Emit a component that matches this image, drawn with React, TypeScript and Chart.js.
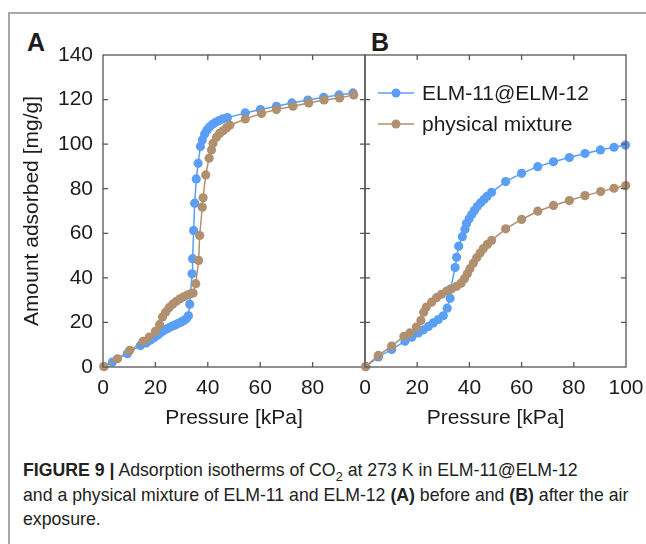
import React, { useEffect, useRef } from 'react';
import { Chart, registerables } from 'chart.js';

Chart.register(...registerables);

const FONT = '"Liberation Sans", Arial, Helvetica, sans-serif';
const TEXT = '#1c1c1c';
const FRAME = '#555555';
const BLUE = '#5a9ff5';
const BROWN = '#b0906e';

const seriesLabels = ['ELM-11@ELM-12', 'physical mixture'];
const xTitle = 'Pressure [kPa]';
const yTitle = 'Amount adsorbed [mg/g]';
const xTickValues = [0, 20, 40, 60, 80, 100];
const yTickValues = [0, 20, 40, 60, 80, 100, 120, 140];

// Panel A (before air exposure)
const aElmP = [0.4, 3.6, 9.3, 14.3, 16.5, 18.0, 19.5, 20.8, 22.0, 23.1, 24.2, 25.3, 26.4, 27.5, 28.6, 29.7, 30.8, 31.8, 32.6, 33.1, 34.0, 34.2, 34.6, 35.0, 35.6, 36.3, 37.2, 37.9, 38.8, 39.7, 40.7, 41.8, 43.0, 44.3, 45.7, 47.5, 54.3, 60.1, 66.2, 72.1, 78.2, 84.2, 90.1, 95.4];
const aElmQ = [0.2, 2.2, 6.0, 9.7, 10.8, 12.0, 13.1, 14.3, 15.4, 16.3, 17.0, 17.7, 18.3, 18.9, 19.5, 20.1, 20.8, 21.6, 23.0, 28.2, 41.8, 48.6, 61.3, 73.5, 84.4, 91.4, 98.9, 101.9, 104.6, 106.4, 107.8, 108.9, 109.8, 110.6, 111.3, 111.9, 114.0, 115.5, 117.0, 118.5, 119.8, 121.0, 122.1, 123.0];
const aMixP = [0.3, 5.5, 10.2, 15.3, 17.6, 20.0, 21.6, 22.7, 23.9, 25.2, 26.6, 28.0, 29.4, 30.8, 32.2, 33.5, 34.4, 35.4, 36.5, 36.9, 37.9, 38.2, 39.2, 40.5, 41.4, 42.0, 43.3, 44.5, 45.8, 47.1, 48.4, 54.3, 60.5, 66.2, 72.5, 78.5, 84.4, 90.3, 95.7];
const aMixQ = [0.2, 3.7, 7.5, 11.5, 13.4, 16.0, 19.0, 22.4, 24.6, 26.6, 28.2, 29.5, 30.6, 31.5, 32.3, 32.9, 33.2, 37.4, 47.8, 59.0, 71.7, 75.9, 86.2, 93.7, 97.4, 100.4, 103.1, 104.8, 106.0, 107.3, 108.5, 111.3, 113.8, 115.5, 117.0, 118.5, 119.8, 120.7, 122.1];

// Panel B (after air exposure)
const bElmP = [0.3, 5.1, 10.2, 15.3, 17.9, 20.4, 22.4, 24.3, 26.2, 28.1, 30.0, 31.5, 32.6, 32.8, 34.5, 35.1, 35.9, 37.3, 38.3, 38.9, 39.9, 40.9, 41.9, 43.0, 44.3, 45.6, 46.8, 48.5, 53.9, 60.0, 66.2, 72.2, 78.3, 84.3, 90.2, 95.4, 99.8];
const bElmQ = [0.2, 4.5, 7.9, 11.5, 13.4, 15.3, 16.7, 18.2, 19.8, 21.3, 23.0, 26.4, 30.8, 35.0, 44.6, 49.2, 54.2, 58.5, 61.8, 64.4, 66.5, 68.4, 70.2, 72.0, 73.7, 75.2, 76.6, 78.4, 83.2, 86.9, 89.9, 92.1, 94.0, 95.8, 97.4, 98.6, 99.6];
const bMixP = [0.3, 5.1, 10.2, 14.9, 17.2, 19.7, 21.4, 22.5, 23.5, 25.5, 27.4, 29.3, 31.3, 33.2, 35.1, 36.8, 38.1, 39.2, 40.2, 41.5, 42.8, 44.1, 45.3, 46.9, 48.5, 53.9, 60.0, 66.2, 72.2, 78.3, 84.3, 90.3, 95.4, 99.9];
const bMixQ = [0.2, 5.2, 9.4, 13.8, 15.3, 17.9, 20.9, 24.6, 26.9, 29.1, 31.1, 32.6, 34.1, 35.1, 36.2, 37.6, 39.6, 41.8, 44.1, 46.6, 49.0, 51.1, 53.1, 55.0, 56.8, 62.0, 66.2, 69.9, 72.5, 74.7, 76.9, 78.7, 80.2, 81.4];

const zip = (p: number[], q: number[]) => p.map((x, i) => ({ x, y: q[i] }));

const zeroPad = (s: any) => {
  s.paddingTop = 0;
  s.paddingBottom = 0;
  s.paddingLeft = 0;
  s.paddingRight = 0;
};

const framePlugin = {
  id: 'frameTicks',
  afterDraw(chart: any) {
    const { ctx, chartArea, scales } = chart;
    const { left, right, top, bottom } = chartArea;
    const xs = scales.x;
    const ys = scales.y;
    const L = 5;
    ctx.save();
    ctx.strokeStyle = FRAME;
    ctx.lineWidth = 1.3;
    ctx.strokeRect(left, top, right - left, bottom - top);
    ctx.beginPath();
    xTickValues.forEach((v) => {
      const px = xs.getPixelForValue(v);
      if (px <= left + 1 || px >= right - 1) return;
      ctx.moveTo(px, bottom);
      ctx.lineTo(px, bottom - L);
      ctx.moveTo(px, top);
      ctx.lineTo(px, top + L);
    });
    yTickValues.forEach((v) => {
      const py = ys.getPixelForValue(v);
      if (py <= top + 1 || py >= bottom - 1) return;
      ctx.moveTo(left, py);
      ctx.lineTo(left + L, py);
      ctx.moveTo(right, py);
      ctx.lineTo(right - L, py);
    });
    ctx.stroke();
    ctx.restore();
  },
};

const legendPlugin = {
  id: 'panelLegend',
  afterDatasetsDraw(chart: any, _args: any, opts: any) {
    if (!opts || !opts.show) return;
    const { ctx, chartArea } = chart;
    const order = [1, 0];
    order.forEach((di, row) => {
      const ds = chart.data.datasets[di];
      const cy = chartArea.top + 38 + row * 31;
      const x0 = chartArea.left + 13;
      ctx.save();
      ctx.strokeStyle = ds.borderColor;
      ctx.lineWidth = 1.5;
      ctx.beginPath();
      ctx.moveTo(x0, cy);
      ctx.lineTo(x0 + 36, cy);
      ctx.stroke();
      ctx.fillStyle = ds.backgroundColor;
      ctx.beginPath();
      ctx.arc(x0 + 18, cy, 4.5, 0, Math.PI * 2);
      ctx.fill();
      ctx.fillStyle = TEXT;
      ctx.font = `21px ${FONT}`;
      ctx.textBaseline = 'middle';
      ctx.textAlign = 'left';
      ctx.fillText(ds.label, x0 + 44, cy + 1);
      ctx.restore();
    });
  },
};

function buildConfig(isA: boolean, elm: any[], mix: any[]): any {
  const font = { family: FONT, size: 21 };
  const ds = (label: string, data: any[], color: string) => ({
    label,
    data,
    borderColor: color,
    backgroundColor: color,
    showLine: true,
    borderWidth: 1.5,
    pointRadius: 4.6,
    pointHoverRadius: 4.6,
    pointBorderWidth: 0,
    clip: false,
  });
  return {
    type: 'scatter',
    data: {
      datasets: [ds(seriesLabels[1], mix, BROWN), ds(seriesLabels[0], elm, BLUE)],
    },
    options: {
      responsive: false,
      animation: false,
      devicePixelRatio: 1,
      events: [],
      layout: { padding: isA ? { top: 15, right: 5, left: 0, bottom: 0 } : { top: 15, right: 20, left: 0, bottom: 0 } },
      plugins: {
        legend: { display: false },
        tooltip: { enabled: false },
        panelLegend: { show: !isA },
      },
      scales: {
        x: {
          type: 'linear',
          min: 0,
          max: 100,
          afterBuildTicks: (s: any) => {
            s.ticks = xTickValues.filter((v) => (isA ? v < 100 : true)).map((v) => ({ value: v }));
          },
          ticks: { font, color: TEXT, padding: 9, autoSkip: false, maxRotation: 0 },
          grid: { display: false, drawTicks: false },
          border: { display: false },
          title: { display: true, text: xTitle, font, color: TEXT, padding: { top: 0, bottom: 9 } },
          afterFit: (s: any) => {
            s.height = 73;
            zeroPad(s);
          },
        },
        y: {
          type: 'linear',
          min: 0,
          max: 140,
          afterBuildTicks: (s: any) => {
            s.ticks = yTickValues.map((v) => ({ value: v }));
          },
          ticks: { display: isA, font, color: TEXT, padding: 10 },
          grid: { display: false, drawTicks: false },
          border: { display: false },
          title: { display: isA, text: yTitle, font, color: TEXT, padding: { top: 20, bottom: 0 } },
          afterFit: (s: any) => {
            s.width = isA ? 103 : 10;
            zeroPad(s);
          },
        },
      },
    },
    plugins: [framePlugin, legendPlugin],
  };
}

export default function App() {
  const refA = useRef<HTMLCanvasElement>(null);
  const refB = useRef<HTMLCanvasElement>(null);

  useEffect(() => {
    const a = new Chart(refA.current as HTMLCanvasElement, buildConfig(true, zip(aElmP, aElmQ), zip(aMixP, aMixQ)));
    const b = new Chart(refB.current as HTMLCanvasElement, buildConfig(false, zip(bElmP, bElmQ), zip(bMixP, bMixQ)));
    return () => {
      a.destroy();
      b.destroy();
    };
  }, []);

  const letter: React.CSSProperties = {
    position: 'absolute',
    top: 30,
    fontFamily: FONT,
    fontWeight: 'bold',
    fontSize: 25,
    lineHeight: '25px',
    color: TEXT,
  };

  return (
    <div style={{ position: 'absolute', left: 0, top: 0, width: 646, height: 544, background: '#fff', overflow: 'hidden' }}>
      <div
        style={{
          position: 'absolute',
          left: 8,
          top: 12,
          width: 646,
          height: 540,
          borderTop: '2px solid #a8a8a8',
          borderLeft: '2px solid #a8a8a8',
        }}
      />
      <div style={{ ...letter, left: 27 }}>A</div>
      <div style={{ ...letter, left: 371 }}>B</div>
      <canvas ref={refA} width={370} height={400} style={{ position: 'absolute', left: 0, top: 40, width: 370, height: 400 }} />
      <canvas ref={refB} width={291} height={400} style={{ position: 'absolute', left: 355, top: 40, width: 291, height: 400 }} />
      <div
        style={{
          position: 'absolute',
          left: 23,
          top: 458,
          fontFamily: FONT,
          fontSize: 17.7,
          lineHeight: '24.5px',
          color: '#222',
          whiteSpace: 'nowrap',
        }}
      >
        <b>FIGURE 9 |</b> Adsorption isotherms of CO<sub style={{ fontSize: '0.72em', lineHeight: 0 }}>2</sub> at 273 K in ELM-11@ELM-12
        <br />
        and a physical mixture of ELM-11 and ELM-12 <b>(A)</b> before and <b>(B)</b> after the air
        <br />
        exposure.
      </div>
    </div>
  );
}
